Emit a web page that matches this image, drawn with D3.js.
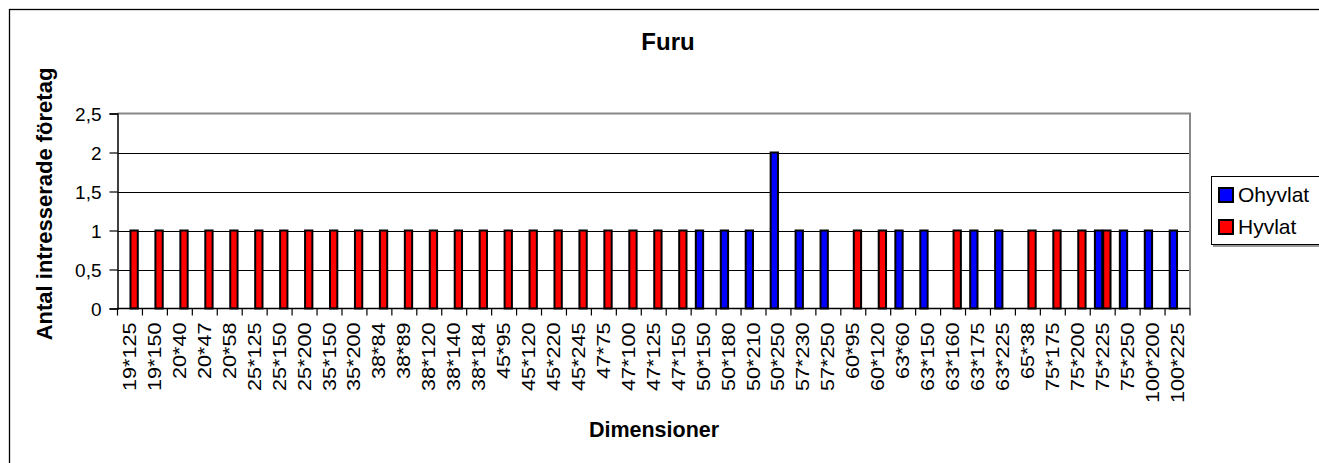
<!DOCTYPE html>
<html>
<head>
<meta charset="utf-8">
<script src="https://cdn.jsdelivr.net/npm/d3@7"></script>
<style>
  html, body { margin: 0; padding: 0; background: #fff; }
  svg { display: block; font-family: Arial, "Liberation Sans", sans-serif; }
</style>
</head>
<body>
<svg id="chart" width="1319" height="463"></svg>
<script>
// Dimensions (thickness*width, mm)
const categories = [
  "19*125", "19*150", "20*40", "20*47", "20*58", "25*125", "25*150", "25*200",
  "35*150", "35*200", "38*84", "38*89", "38*120", "38*140", "38*184", "45*95",
  "45*120", "45*220", "45*245", "47*75", "47*100", "47*125", "47*150", "50*150",
  "50*180", "50*210", "50*250", "57*230", "57*250", "60*95", "60*120", "63*60",
  "63*150", "63*160", "63*175", "63*225", "65*38", "75*175", "75*200", "75*225",
  "75*250", "100*200", "100*225"
];
// Number of interested companies per dimension
const ohyvlat = [
  0, 0, 0, 0, 0, 0, 0, 0, 0, 0, 0, 0, 0, 0, 0, 0,
  0, 0, 0, 0, 0, 0, 0, 1, 1, 1, 2, 1, 1, 0, 0, 1,
  1, 0, 1, 1, 0, 0, 0, 1, 1, 1, 1
];
const hyvlat = [
  1, 1, 1, 1, 1, 1, 1, 1, 1, 1, 1, 1, 1, 1, 1, 1,
  1, 1, 1, 1, 1, 1, 1, 0, 0, 0, 0, 0, 0, 1, 1, 0,
  0, 1, 0, 0, 1, 1, 1, 1, 0, 0, 0
];
const seriesNames = ["Ohyvlat", "Hyvlat"];
const seriesColors = ["#0000ff", "#ff0000"];
const yTicks = [0, 0.5, 1, 1.5, 2, 2.5];

const svg = d3.select("#chart");
const plot = { left: 117.5, right: 1190, top: 113.5, bottom: 308.5 };

// outer chart frame
svg.append("rect")
  .attr("x", 9.5).attr("y", 9.5)
  .attr("width", 1400).attr("height", 600)
  .attr("fill", "#fff").attr("stroke", "#000").attr("stroke-width", 1.3);

const x = d3.scaleBand().domain(categories)
  .range([plot.left, plot.right]).paddingInner(0).paddingOuter(0);
const xs = d3.scaleBand().domain(seriesNames)
  .range([0, x.bandwidth()]).paddingInner(0).paddingOuter(0.5);
const y = d3.scaleLinear().domain([0, 2.5]).range([plot.bottom, plot.top]);

// gridlines
svg.append("g").selectAll("line").data(yTicks.filter(v => v > 0 && v < 2.5)).join("line")
  .attr("x1", plot.left).attr("x2", plot.right)
  .attr("y1", d => Math.round(y(d)) + 0.5).attr("y2", d => Math.round(y(d)) + 0.5)
  .attr("stroke", "#000").attr("stroke-width", 1);

// plot area border (top and right)
svg.append("path")
  .attr("d", `M${plot.left},${plot.top}H${plot.right}V${plot.bottom}`)
  .attr("fill", "none").attr("stroke", "#888").attr("stroke-width", 2);

// bars
const rows = categories.map((c, i) => ({ c, vals: [ohyvlat[i], hyvlat[i]] }));
const groups = svg.append("g").selectAll("g").data(rows).join("g")
  .attr("transform", d => `translate(${x(d.c)},0)`);
groups.selectAll("rect")
  .data(d => d.vals.map((v, k) => ({ v, k })).filter(e => e.v > 0))
  .join("rect")
  .attr("x", e => xs(seriesNames[e.k]) + 0.5)
  .attr("width", xs.bandwidth() - 1)
  .attr("y", e => y(e.v))
  .attr("height", e => y(0) - y(e.v))
  .attr("fill", e => seriesColors[e.k])
  .attr("stroke", "#000").attr("stroke-width", 2);

// y axis
const yAxis = svg.append("g")
  .attr("transform", `translate(${plot.left},0)`)
  .call(d3.axisLeft(y).tickValues(yTicks).tickSize(8).tickPadding(0)
    .tickFormat(d => d3.format("")(d).replace(".", ",")));
yAxis.select(".domain").attr("stroke", "#000").attr("stroke-width", 1.5);
yAxis.selectAll(".tick line").attr("stroke", "#000").attr("stroke-width", 1.2);
yAxis.selectAll(".tick text")
  .attr("x", -16).attr("dy", "0.36em")
  .attr("font-size", 19).attr("fill", "#000");

// x axis with ticks at category boundaries
const xAxis = svg.append("g").attr("transform", `translate(0,${plot.bottom})`);
xAxis.append("line").attr("x1", plot.left).attr("x2", plot.right)
  .attr("stroke", "#000").attr("stroke-width", 1.5);
const bounds = categories.map(c => x(c)).concat([plot.right]);
xAxis.selectAll("line.tk").data(bounds).join("line").attr("class", "tk")
  .attr("x1", d => d).attr("x2", d => d).attr("y1", 0).attr("y2", 7)
  .attr("stroke", "#000").attr("stroke-width", 1.2);
xAxis.selectAll("text").data(categories).join("text")
  .attr("transform", d => `translate(${x(d) + x.bandwidth() / 2 + 6},14) rotate(-90) scale(1.2,1)`)
  .attr("text-anchor", "end")
  .attr("font-size", 18).attr("fill", "#000")
  .text(d => d);

// titles
svg.append("text").attr("x", 668).attr("y", 50)
  .attr("text-anchor", "middle").attr("font-weight", "bold").attr("font-size", 24)
  .text("Furu");
svg.append("text").attr("x", 654).attr("y", 437)
  .attr("text-anchor", "middle").attr("font-weight", "bold").attr("font-size", 21.5)
  .text("Dimensioner");
svg.append("text")
  .attr("transform", `translate(52,204) rotate(-90)`)
  .attr("text-anchor", "middle").attr("font-weight", "bold").attr("font-size", 22)
  .text("Antal intresserade företag");

// legend
const lg = svg.append("g").attr("transform", "translate(1211,176)");
lg.append("rect").attr("x", 2).attr("y", 2).attr("width", 200).attr("height", 69)
  .attr("fill", "#999");
lg.append("rect").attr("x", 0.5).attr("y", 0.5).attr("width", 200).attr("height", 68)
  .attr("fill", "#fff").attr("stroke", "#000").attr("stroke-width", 1);
const li = lg.selectAll("g.item").data(seriesNames).join("g").attr("class", "item")
  .attr("transform", (d, i) => `translate(8,${12 + i * 32})`);
li.append("rect").attr("width", 14).attr("height", 14)
  .attr("fill", (d, i) => seriesColors[i]).attr("stroke", "#000").attr("stroke-width", 2);
li.append("text").attr("x", 19).attr("y", 14).attr("font-size", 21)
  .attr("fill", "#000").text(d => d);
</script>
</body>
</html>
